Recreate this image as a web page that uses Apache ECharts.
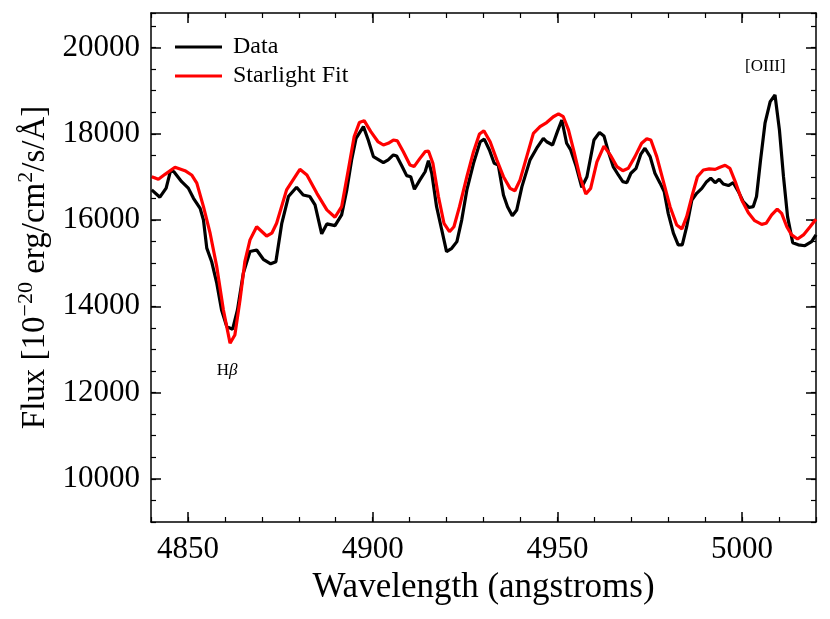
<!DOCTYPE html>
<html>
<head>
<meta charset="utf-8">
<script src="https://cdn.jsdelivr.net/npm/echarts@6/dist/echarts.min.js"></script>
<style>
  html, body { margin: 0; padding: 0; background: #fff; }
  #chart { width: 830px; height: 619px; }
</style>
</head>
<body>
<div id="chart"></div>
<script>
// observed spectrum (wavelength in angstroms, flux)
const dataWave = [4840.2, 4842.4, 4844.1, 4845.3, 4846.2, 4848.3, 4850.1, 4851.5, 4853.3, 4854.2,
  4855.1, 4856.4, 4857.8, 4859.1, 4860.5, 4862.1, 4863.4, 4865.0, 4866.8, 4868.6,
  4870.4, 4872.4, 4873.8, 4875.4, 4877.2, 4879.4, 4881.2, 4883.0, 4884.4, 4886.2,
  4887.6, 4889.8, 4891.6, 4893.0, 4894.3, 4895.5, 4897.5, 4898.8, 4900.2, 4902.9,
  4904.2, 4905.6, 4906.5, 4907.9, 4909.2, 4910.3, 4911.3, 4912.8, 4914.2, 4915.1,
  4916.0, 4917.3, 4918.7, 4920.0, 4921.4, 4922.8, 4924.1, 4925.5, 4927.3, 4929.1,
  4930.2, 4931.6, 4932.9, 4934.0, 4935.4, 4936.5, 4937.8, 4939.0, 4940.4, 4942.6,
  4944.4, 4946.2, 4947.1, 4948.7, 4950.0, 4951.2, 4952.5, 4953.6, 4955.1, 4956.6,
  4958.0, 4959.9, 4961.4, 4962.6, 4963.8, 4965.1, 4966.5, 4967.7, 4968.8, 4969.9,
  4971.3, 4972.6, 4973.7, 4975.1, 4976.4, 4977.8, 4978.9, 4980.0, 4981.4, 4982.7,
  4983.8, 4985.0, 4986.4, 4987.7, 4989.1, 4990.4, 4991.5, 4992.7, 4993.8, 4994.9,
  4996.3, 4997.6, 4999.0, 5000.3, 5001.9, 5003.0, 5003.9, 5005.0, 5006.2, 5007.6,
  5008.9, 5010.1, 5011.2, 5012.3, 5013.7, 5015.2, 5017.0, 5018.8, 5020.0]
const dataFlux = [16700, 16530, 16740, 17145, 17120, 16890, 16740, 16505, 16270, 16000,
  15350, 15040, 14535, 13915, 13530, 13470, 13915, 14770, 15270, 15305,
  15090, 14985, 15035, 15925, 16545, 16760, 16580, 16545, 16350, 15680,
  15910, 15870, 16120, 16700, 17395, 17895, 18165, 17855, 17470, 17330,
  17395, 17510, 17485, 17255, 17030, 17005, 16715, 16930, 17120, 17375,
  17085, 16310, 15770, 15270, 15345, 15500, 16000, 16700, 17315, 17815,
  17875, 17625, 17315, 17275, 16580, 16310, 16100, 16235, 16775, 17395,
  17665, 17895, 17815, 17740, 18050, 18320, 17780, 17625, 17240, 16760,
  17005, 17855, 18030, 17950, 17585, 17240, 17045, 16890, 16865, 17085,
  17200, 17530, 17665, 17470, 17085, 16855, 16660, 16155, 15695, 15425,
  15425, 15845, 16465, 16620, 16735, 16890, 16970, 16865, 16945, 16835,
  16800, 16865, 16660, 16425, 16290, 16310, 16545, 17395, 18245, 18745,
  18900, 18090, 17005, 16080, 15475, 15425, 15405, 15500, 15655]

// starlight model fit
const fitWave = [4840.2, 4842.0, 4843.8, 4846.5, 4849.2, 4851.0, 4852.4, 4854.2, 4856.0, 4857.8,
  4859.6, 4861.4, 4862.7, 4864.1, 4865.4, 4866.8, 4868.6, 4871.3, 4872.7, 4874.0,
  4876.7, 4880.3, 4882.2, 4884.9, 4887.6, 4889.8, 4891.6, 4893.4, 4895.0, 4896.4,
  4897.7, 4899.5, 4901.4, 4902.9, 4904.2, 4905.6, 4906.7, 4908.3, 4910.1, 4911.2,
  4912.8, 4914.2, 4915.1, 4916.3, 4917.8, 4919.3, 4920.8, 4922.0, 4923.5, 4925.5,
  4927.3, 4928.9, 4930.1, 4931.8, 4933.6, 4935.4, 4937.2, 4938.5, 4939.9, 4941.7,
  4943.5, 4945.3, 4947.1, 4948.9, 4950.3, 4951.6, 4953.0, 4954.5, 4956.1, 4957.7,
  4959.0, 4960.7, 4962.6, 4964.3, 4966.1, 4967.7, 4969.2, 4971.0, 4972.8, 4974.2,
  4975.3, 4976.9, 4978.7, 4980.5, 4982.3, 4983.7, 4985.0, 4986.4, 4987.9, 4989.5,
  4991.1, 4992.7, 4994.0, 4995.4, 4996.7, 4998.3, 4999.9, 5001.7, 5003.4, 5005.3,
  5006.5, 5008.0, 5009.5, 5010.7, 5012.1, 5013.4, 5015.0, 5016.6, 5018.4, 5020.0]
const fitFlux = [17005, 16945, 17060, 17225, 17145, 17045, 16855, 16310, 15695, 14920,
  13915, 13145, 13335, 14150, 15035, 15540, 15845, 15630, 15695, 15925,
  16700, 17175, 17045, 16620, 16235, 16065, 16310, 17160, 17935, 18260,
  18305, 18050, 17820, 17740, 17780, 17855, 17835, 17585, 17275, 17240,
  17430, 17585, 17600, 17315, 16545, 15925, 15730, 15845, 16310, 17005,
  17585, 17995, 18070, 17815, 17395, 17005, 16735, 16680, 16930, 17470,
  18010, 18165, 18260, 18395, 18460, 18395, 18090, 17585, 17005, 16605,
  16735, 17350, 17715, 17510, 17240, 17145, 17200, 17470, 17780, 17885,
  17855, 17470, 16890, 16310, 15885, 15795, 16080, 16545, 17005, 17160,
  17185, 17175, 17225, 17270, 17200, 16855, 16465, 16170, 15985, 15900,
  15925, 16120, 16255, 16155, 15845, 15655, 15560, 15655, 15845, 16020]

// axes
const xRange = [4840, 5020]
const yRange = [9000, 20800]
const xTicks = [4850, 4900, 4950, 5000]
const yTicks = [10000, 12000, 14000, 16000, 18000, 20000]

// line labels
const lineNotes = [
  { name: 'Hβ', coord: [4860.6, 12500] },
  { name: '[OIII]', coord: [5006.3, 19555] },
]

const FONT = 'Liberation Serif'

const majorAxis = (position, extra) => ({
  type: 'value',
  position,
  min: extra.min,
  max: extra.max,
  axisLine: { show: true, onZero: false, lineStyle: { color: '#000', width: 1.5 } },
  axisTick: { show: true, inside: true, length: 10, customValues: extra.ticks, lineStyle: { color: '#000', width: 1.5 } },
  axisLabel: extra.labels
    ? { show: true, customValues: extra.ticks, margin: extra.margin, color: '#000', fontFamily: FONT, fontSize: 31, formatter: v => String(v) }
    : { show: false },
  splitLine: { show: false },
  ...(extra.name || {}),
})

const minorAxis = (position, min, max, interval) => ({
  type: 'value',
  position,
  min,
  max,
  interval,
  axisLine: { show: false },
  axisTick: { show: true, inside: true, length: 5, lineStyle: { color: '#000', width: 1.2 } },
  axisLabel: { show: false },
  splitLine: { show: false },
})

const toPairs = (xs, ys) => xs.map((x, i) => [x, ys[i]])

const chart = echarts.init(document.getElementById('chart'))
chart.setOption({
  animation: false,
  backgroundColor: '#fff',
  grid: { left: 151, right: 14, top: 13, bottom: 97, containLabel: false },
  legend: {
    orient: 'vertical',
    left: 170,
    top: 30,
    icon: 'rect',
    itemWidth: 47,
    itemHeight: 3,
    itemGap: 5,
    data: ['Data', 'Starlight Fit'],
    textStyle: { fontFamily: FONT, fontSize: 24, color: '#000', lineHeight: 24, padding: [0, 0, 0, 6] },
  },
  xAxis: [
    majorAxis('bottom', {
      min: xRange[0], max: xRange[1], ticks: xTicks, labels: true, margin: 12,
      name: {
        name: 'Wavelength (angstroms)',
        nameLocation: 'middle',
        nameGap: 48,
        nameTextStyle: { fontFamily: FONT, fontSize: 35, color: '#000' },
      },
    }),
    minorAxis('bottom', xRange[0], xRange[1], 10),
    majorAxis('top', { min: xRange[0], max: xRange[1], ticks: xTicks, labels: false }),
    minorAxis('top', xRange[0], xRange[1], 10),
  ],
  yAxis: [
    majorAxis('left', {
      min: yRange[0], max: yRange[1], ticks: yTicks, labels: true, margin: 11,
      name: {
        name: '{a|Flux [10}{s|−20}{a| erg/cm}{s|2}{a|/s/Å]}',
        nameLocation: 'middle',
        nameGap: 96,
        nameTextStyle: {
          color: '#000',
          rich: {
            a: { fontFamily: FONT, fontSize: 33, color: '#000', lineHeight: 40 },
            s: { fontFamily: FONT, fontSize: 22, color: '#000', lineHeight: 40, verticalAlign: 'top' },
          },
        },
      },
    }),
    minorAxis('left', yRange[0], yRange[1], 500),
    majorAxis('right', { min: yRange[0], max: yRange[1], ticks: yTicks, labels: false }),
    minorAxis('right', yRange[0], yRange[1], 500),
  ],
  series: [
    {
      name: 'Data',
      type: 'line',
      xAxisIndex: 0,
      yAxisIndex: 0,
      data: toPairs(dataWave, dataFlux),
      symbol: 'none',
      lineStyle: { color: '#000', width: 3.2 },
      itemStyle: { color: '#000' },
      z: 2,
      markPoint: {
        symbol: 'circle',
        symbolSize: 0,
        label: {
          show: true,
          position: 'inside',
          color: '#000',
          formatter: p => p.name === 'Hβ' ? '{h|H}{b|β}' : '{h|' + p.name + '}',
          rich: {
            h: { fontFamily: FONT, fontSize: 17, color: '#000' },
            b: { fontFamily: FONT, fontSize: 17, fontStyle: 'italic', color: '#000' },
          },
        },
        data: lineNotes.map(n => ({ name: n.name, coord: n.coord })),
      },
    },
    {
      name: 'Starlight Fit',
      type: 'line',
      xAxisIndex: 0,
      yAxisIndex: 0,
      data: toPairs(fitWave, fitFlux),
      symbol: 'none',
      lineStyle: { color: '#ff0000', width: 3.2 },
      itemStyle: { color: '#ff0000' },
      z: 3,
    },
  ],
})
</script>
</body>
</html>
